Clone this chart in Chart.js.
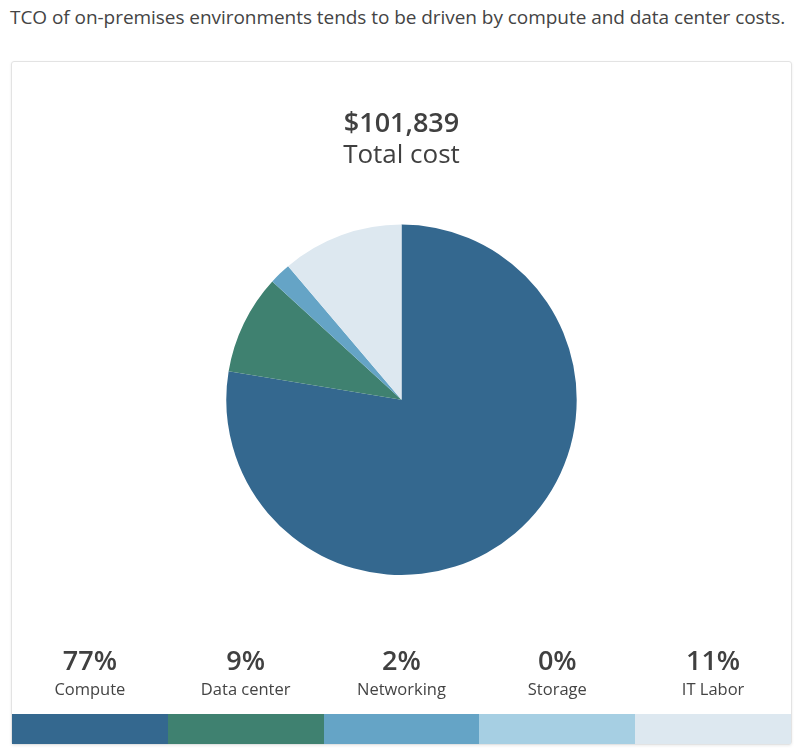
<!DOCTYPE html>
<html>
<head>
<meta charset="utf-8">
<script src="https://cdn.jsdelivr.net/npm/chart.js@4.4.1/dist/chart.umd.min.js"></script>
<style>
  html, body { margin: 0; padding: 0; background: #fff; }
  body { width: 804px; height: 755px; position: relative; font-family: "Open Sans", "Noto Sans", sans-serif; color: #444; overflow: hidden; }
  .intro { position: absolute; left: 10px; top: 4px; font-size: 19px; letter-spacing: -0.05px; white-space: nowrap; color: #444; }
  .card { position: absolute; left: 11px; top: 61px; width: 779px; height: 682px; border: 1px solid #e3e3e3; border-radius: 3px; box-shadow: 0 1px 3px rgba(0,0,0,0.08); }
  .chart-box { position: absolute; left: 0; top: 0; width: 779px; height: 580px; }
  .legend { position: absolute; left: 0; top: 582px; width: 779px; display: flex; }
  .legend div { flex: 1; text-align: center; }
  .legend .pct { font-size: 27px; font-weight: 600; line-height: 32px; color: #404040; }
  .legend .lbl { font-size: 16.5px; line-height: 26px; color: #444; }
  .bar { position: absolute; left: 0; top: 652px; width: 779px; height: 30px; display: flex; }
  .bar span { flex: 1; }
</style>
</head>
<body>
<div class="intro">TCO of on-premises environments tends to be driven by compute and data center costs.</div>
<div class="card">
  <div class="chart-box"><canvas id="tcoPie"></canvas></div>
  <div class="legend" id="legend"></div>
  <div class="bar" id="colorBar"></div>
</div>
<script>
const categories = ['Compute', 'Data center', 'Networking', 'Storage', 'IT Labor'];
const costs = [79027, 9369, 2037, 0, 11406];
const colors = ['#34688f', '#3f8170', '#65a4c6', '#a6cfe3', '#dde8f0'];
const totalLabel = '$101,839';
const subLabel = 'Total cost';

const total = costs.reduce((a, b) => a + b, 0);

// leyenda y barra de colores
const legend = document.getElementById('legend');
const bar = document.getElementById('colorBar');
categories.forEach((name, i) => {
  const pct = Math.floor(costs[i] / total * 100);
  const col = document.createElement('div');
  col.innerHTML = `<div class="pct">${pct}%</div><div class="lbl">${name}</div>`;
  legend.appendChild(col);
  const sw = document.createElement('span');
  sw.style.background = colors[i];
  bar.appendChild(sw);
});

new Chart(document.getElementById('tcoPie'), {
  type: 'pie',
  data: {
    labels: categories,
    datasets: [{
      data: costs,
      backgroundColor: colors,
      borderWidth: 0
    }]
  },
  options: {
    responsive: true,
    maintainAspectRatio: false,
    animation: false,
    layout: { padding: { top: 0, bottom: 67 } },
    plugins: {
      legend: { display: false },
      title: {
        display: true,
        text: totalLabel,
        color: '#404040',
        font: { family: '"Open Sans", sans-serif', size: 27, weight: '600', lineHeight: 1.2 },
        padding: { top: 46, bottom: 0 }
      },
      subtitle: {
        display: true,
        text: subLabel,
        color: '#404040',
        font: { family: '"Open Sans", sans-serif', size: 26, weight: 'normal', lineHeight: 1.2 },
        padding: { top: 0, bottom: 53 }
      }
    }
  }
});
</script>
</body>
</html>
